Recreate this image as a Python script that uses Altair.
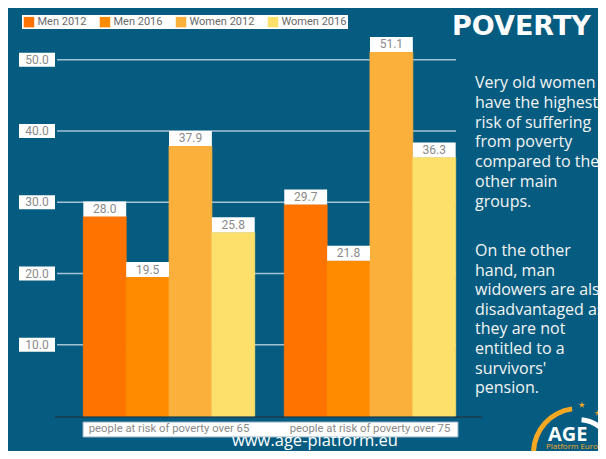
import altair as alt
import pandas as pd

groups = ["people at risk of poverty over 65", "people at risk of poverty over 75"]
series = ["Men 2012", "Men 2016", "Women 2012", "Women 2016"]
values_65 = [28.0, 19.5, 37.9, 25.8]
values_75 = [29.7, 21.8, 51.1, 36.3]
colors = ["#FF7300", "#FF8C00", "#FBB03B", "#FDDF6B"]
y_ticks = [10, 20, 30, 40, 50]
y_tick_labels = ["10.0", "20.0", "30.0", "40.0", "50.0"]
title_text = "POVERTY"
para1 = ["Very old women", "have the highest", "risk of suffering", "from poverty",
         "compared to the", "other main", "groups."]
para2 = ["On the other", "hand, man", "widowers are also", "disadvantaged as",
         "they are not", "entitled to a", "survivors'", "pension."]
footer = "www.age-platform.eu"
logo_text = "AGE"
logo_sub = "Platform Europe"

BG = "#065c80"

rows = []
for g, vals in zip(groups, [values_65, values_75]):
    for s, v in zip(series, vals):
        rows.append({"group": g, "series": s, "value": v, "label": f"{v:.1f}"})
df = pd.DataFrame(rows)
ticks_df = pd.DataFrame({"v": y_ticks, "lab": y_tick_labels})
groups_df = pd.DataFrame({"group": groups})

yscale = alt.Scale(domain=[0, 56], nice=False, zero=True)
xscale = alt.Scale(paddingInner=0.147, paddingOuter=0.131)
xenc = alt.X("group:N", sort=groups, axis=None, scale=xscale)
xoff = alt.XOffset("series:N", sort=series, scale=alt.Scale(paddingInner=0, paddingOuter=0))
cscale = alt.Scale(domain=series, range=colors)

base = alt.Chart(df)

grid = alt.Chart(ticks_df).mark_rule(color="#a3c2d3", strokeWidth=1.5).encode(
    y=alt.Y("v:Q", scale=yscale, axis=None), x=alt.value(0), x2=alt.value(399))

ybox = alt.Chart(ticks_df).transform_calculate(
    lo="datum.v - 0.98", hi="datum.v + 0.98").mark_rect(color="white").encode(
    y=alt.Y("lo:Q", scale=yscale, axis=None), y2="hi:Q",
    x=alt.value(-38), x2=alt.value(-2))
ytext = alt.Chart(ticks_df).mark_text(color="#8a8a8a", font="Roboto", fontSize=12,
                                      align="center", baseline="middle").encode(
    y=alt.Y("v:Q", scale=yscale, axis=None), x=alt.value(-20), text="lab:N")

axis_line = alt.Chart(ticks_df.head(1)).mark_rule(color="#1d3b4d", strokeWidth=1.5).encode(
    x=alt.value(-2), x2=alt.value(425), y=alt.value(400))

bars = base.mark_bar(strokeWidth=0.8).encode(
    x=xenc, xOffset=xoff,
    y=alt.Y("value:Q", scale=yscale, axis=None),
    stroke=alt.Stroke("series:N", sort=series, scale=cscale, legend=None),
    color=alt.Color("series:N", sort=series, scale=cscale,
                    legend=alt.Legend(title=None, orient="none", legendX=-35, legendY=-2,
                                      direction="horizontal", fillColor="white", padding=1.5,
                                      symbolType="square", symbolSize=110,
                                      symbolStrokeWidth=0, labelColor="#6a6a6a",
                                      labelFont="Roboto", labelFontSize=11,
                                      columnPadding=13, labelOffset=3)))

lbox = base.transform_calculate(top="datum.value + 2.1").mark_bar(color="white").encode(
    x=xenc, xOffset=xoff,
    y=alt.Y("value:Q", scale=yscale, axis=None), y2="top:Q")
ltext = base.transform_calculate(mid="datum.value + 1.05").mark_text(
    color="#8a8a8a", font="Roboto", fontSize=12, baseline="middle").encode(
    x=xenc, xOffset=xoff,
    y=alt.Y("mid:Q", scale=yscale, axis=None), text="label:N")

xbox = alt.Chart(groups_df.head(1)).mark_rect(color="white", stroke="#8fb0c4", strokeWidth=1).encode(
    x=alt.value(26), x2=alt.value(401), y=alt.value(405), y2=alt.value(420))
xtext = alt.Chart(groups_df).mark_text(color="#8a8a8a", font="Roboto", fontSize=11.3,
                                       baseline="middle").encode(
    x=alt.X("group:N", sort=groups, axis=None, scale=xscale),
    y=alt.value(412), text="group:N")

title = alt.Chart(pd.DataFrame({"t": [title_text]})).mark_text(
    color="white", font="DejaVu Sans", fontWeight="bold", fontSize=27,
    align="left", baseline="alphabetic").encode(x=alt.value(395), y=alt.value(18), text="t:N")

p1 = alt.Chart(pd.DataFrame({"t": ["\n".join(para1)]})).mark_text(
    color="#f4f4f4", font="Open Sans", fontSize=16, lineBreak="\n", lineHeight=19.8,
    align="left", baseline="alphabetic").encode(x=alt.value(418), y=alt.value(71), text="t:N")
p2 = alt.Chart(pd.DataFrame({"t": ["\n".join(para2)]})).mark_text(
    color="#f4f4f4", font="Open Sans", fontSize=16, lineBreak="\n", lineHeight=19.6,
    align="left", baseline="alphabetic").encode(x=alt.value(418), y=alt.value(239), text="t:N")

foot = alt.Chart(pd.DataFrame({"t": [footer]})).mark_text(
    color="white", font="Open Sans", fontSize=16.5,
    align="center", baseline="alphabetic").encode(x=alt.value(258), y=alt.value(429), text="t:N")

arc_o = alt.Chart(pd.DataFrame({"t": [1]})).mark_arc(
    color="#F7A823", radius=42, radius2=47, theta=4.75, theta2=6.15).encode(
    x=alt.value(521), y=alt.value(436))
arc_w = alt.Chart(pd.DataFrame({"t": [1]})).mark_arc(
    color="white", radius=33, radius2=38, theta=0.1, theta2=1.35).encode(
    x=alt.value(521), y=alt.value(438))
star_path = "M0,-1L0.22,-0.31L0.95,-0.31L0.36,0.12L0.59,0.81L0,0.38L-0.59,0.81L-0.36,0.12L-0.95,-0.31L-0.22,-0.31Z"
stars = alt.Chart(pd.DataFrame({"sx": [525, 541], "sy": [388, 396]})).mark_point(
    shape=star_path, filled=True, color="#F7A823", size=45, opacity=1).encode(
    x=alt.X("sx:Q", scale=None), y=alt.Y("sy:Q", scale=None))
age = alt.Chart(pd.DataFrame({"t": [logo_text]})).mark_text(
    color="white", font="Open Sans", fontWeight="bold", fontSize=20,
    align="left", baseline="alphabetic").encode(x=alt.value(491), y=alt.value(424), text="t:N")
sub = alt.Chart(pd.DataFrame({"t": [logo_sub]})).mark_text(
    color="#F7A823", font="Open Sans", fontSize=8,
    align="left", baseline="alphabetic").encode(x=alt.value(489), y=alt.value(432), text="t:N")

chart = alt.layer(grid, axis_line, bars, lbox, ltext, ybox, ytext, xbox, xtext,
                  title, p1, p2, foot, arc_o, arc_w, stars, age, sub).resolve_scale(
    y="shared", x="shared").properties(
    width=425, height=399, background=BG,
    autosize=alt.AutoSizeParams(type="none"),
    padding={"left": 49, "top": 9, "right": 116, "bottom": 35}
).configure_view(strokeWidth=0)

chart.save("out.html", embed_options={"renderer": "svg", "actions": False})
